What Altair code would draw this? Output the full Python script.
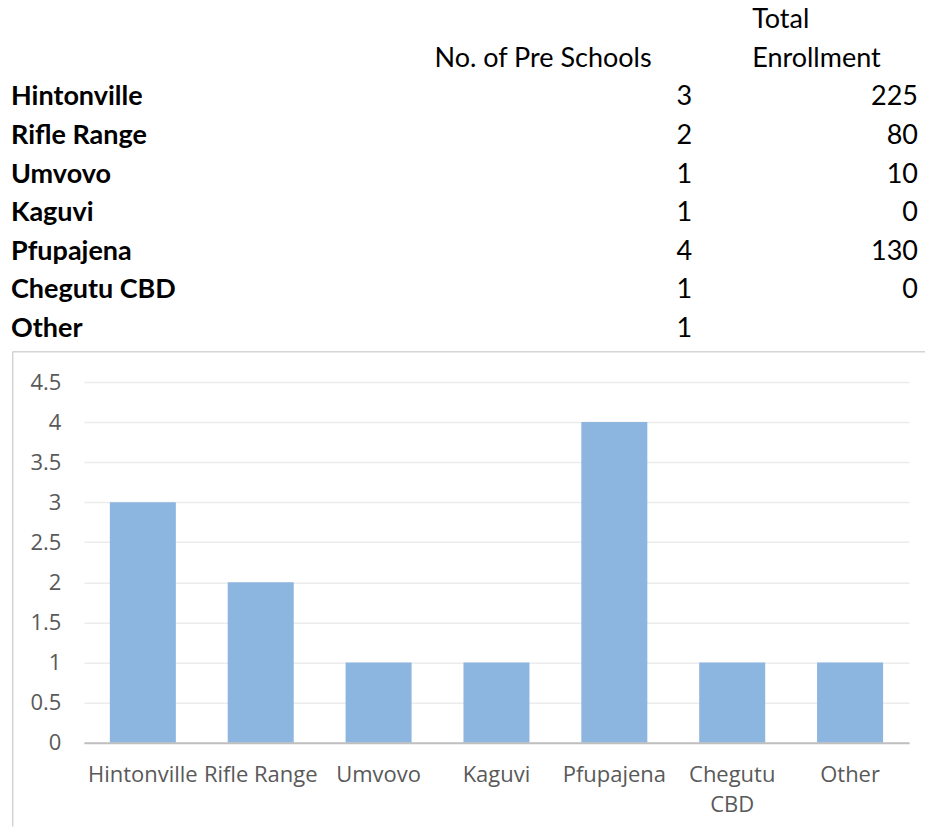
import altair as alt
import pandas as pd

# Pre-school survey by area
areas = ["Hintonville", "Rifle Range", "Umvovo", "Kaguvi", "Pfupajena", "Chegutu CBD", "Other"]
pre_schools = [3, 2, 1, 1, 4, 1, 1]
enrollment = [225, 80, 10, 0, 130, 0, None]

header_schools = "No. of Pre Schools"
header_enrollment = ["Total", "Enrollment"]
y_ticks = [0, 0.5, 1, 1.5, 2, 2.5, 3, 3.5, 4, 4.5]

# layout constants (pixels)
ROW_PITCH = 38.67
FIRST_BASELINE = 105
TABLE_H = 349
PLOT_W = 826
PLOT_H = 361
TABLE_FONT = "Lato"
TABLE_SIZE = 27
AXIS_FONT = "Open Sans"
AXIS_SIZE = 22
AXIS_COLOR = "#595959"
BAR_COLOR = "#8cb5e0"

table = pd.DataFrame({
    "area": areas,
    "row": list(range(len(areas))),
    "schools": [str(v) for v in pre_schools],
    "enrollment": ["" if v is None else str(v) for v in enrollment],
})
head_left = pd.DataFrame({"text": [header_schools], "row": [-1]})
head_right = pd.DataFrame({"text": header_enrollment, "row": [-2, -1]})

row_y = alt.Y(
    "row:Q",
    axis=None,
    scale=alt.Scale(
        domain=[-FIRST_BASELINE / ROW_PITCH, (TABLE_H - FIRST_BASELINE) / ROW_PITCH],
        reverse=True, nice=False, zero=False,
    ),
)

def table_text(data, field, x, align, weight="normal"):
    return alt.Chart(data).mark_text(
        align=align, baseline="alphabetic", font=TABLE_FONT,
        fontSize=TABLE_SIZE, fontWeight=weight, color="#000000",
    ).encode(x=alt.value(x), y=row_y, text=f"{field}:N")

top = alt.layer(
    table_text(table, "area", -73, "left", "bold"),
    table_text(table, "schools", 609, "right"),
    table_text(table, "enrollment", 835, "right"),
    table_text(head_left, "text", 351, "left"),
    table_text(head_right, "text", 669, "left"),
).properties(width=PLOT_W, height=TABLE_H)

bars_df = pd.DataFrame({"area": areas, "schools": pre_schools})

bars = alt.Chart(bars_df).mark_bar(color=BAR_COLOR).encode(
    x=alt.X(
        "area:N", sort=areas, title=None,
        scale=alt.Scale(paddingInner=0.44, paddingOuter=0.22),
        axis=alt.Axis(
            labelAngle=0, ticks=False, domainColor="#bfbfbf", domainWidth=2,
            labelFont=AXIS_FONT, labelFontSize=AXIS_SIZE, labelColor=AXIS_COLOR,
            labelPadding=22, labelLineHeight=30, labelOverlap=False, labelLimit=300,
            labelExpr="datum.label == 'Chegutu CBD' ? ['Chegutu', 'CBD'] : datum.label",
            grid=False, zindex=1,
        ),
    ),
    y=alt.Y(
        "schools:Q", title=None,
        scale=alt.Scale(domain=[0, 4.5], nice=False),
        axis=alt.Axis(
            values=y_ticks, format="~g", ticks=False, domain=False,
            labelFont=AXIS_FONT, labelFontSize=AXIS_SIZE, labelColor=AXIS_COLOR,
            labelPadding=23, gridColor="#ececec", gridWidth=1.5,
        ),
    ),
)

# chart frame: top and left edges
frame_df = pd.DataFrame({"edge": ["frame"]})
frame_top = alt.Chart(frame_df).mark_rule(color="#d4d4d4", strokeWidth=1.5).encode(
    x=alt.value(-71.3), x2=alt.value(842), y=alt.value(-30.3)
)
frame_left = alt.Chart(frame_df).mark_rule(color="#d4d4d4", strokeWidth=1.5).encode(
    x=alt.value(-71.3), y=alt.value(-30.3), y2=alt.value(445)
)

bottom = alt.layer(bars, frame_top, frame_left).properties(width=PLOT_W, height=PLOT_H)

chart = alt.vconcat(top, bottom, spacing=33, bounds="flush").properties(
    padding={"left": 11, "top": 0, "right": 0, "bottom": 0}
).configure_view(stroke=None)

chart.save("out.html", embed_options={"renderer": "svg", "actions": False})
